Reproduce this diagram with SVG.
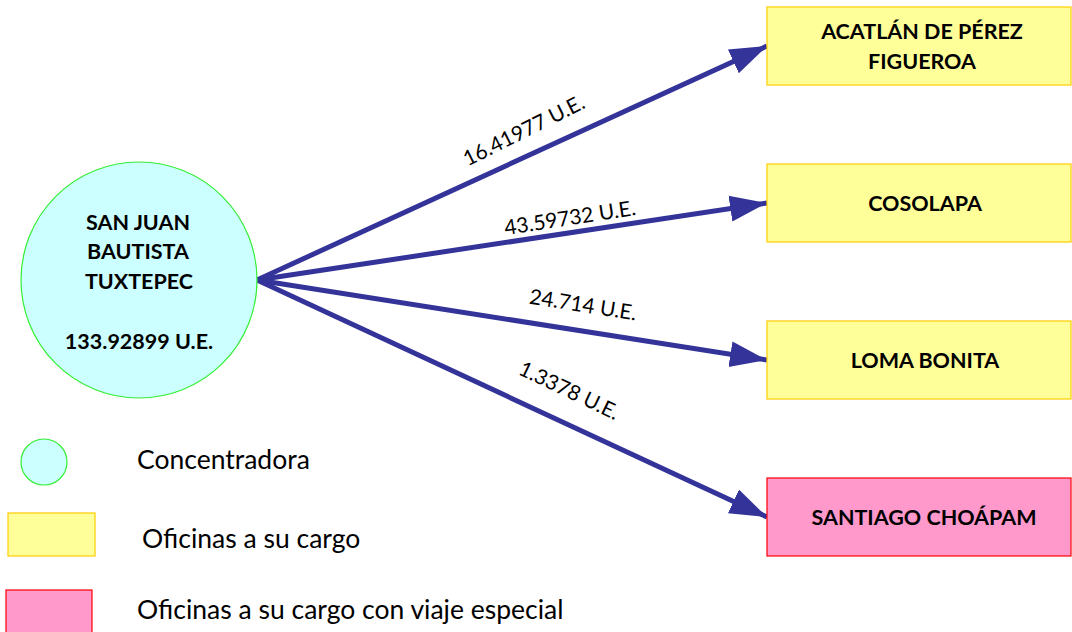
<svg xmlns="http://www.w3.org/2000/svg" width="1072" height="632" viewBox="0 0 1072 632">
<style>
.lbl{font-family:Lato,"Open Sans","Liberation Sans",sans-serif;font-size:21px;fill:#000}
.node{font-family:Lato,"Open Sans","Liberation Sans",sans-serif;font-size:21.5px;font-weight:bold;fill:#000;text-anchor:middle}
.leg{font-family:Lato,"Open Sans","Liberation Sans",sans-serif;font-size:26.5px;fill:#000}
.conn{stroke:#333399;stroke-width:5;fill:none}
.yel{fill:#FFFF99;stroke:#FFCC00;stroke-width:1.2}
.pink{fill:#FF99CC;stroke:#FF0000;stroke-width:1.2}
.conc{fill:#CCFFFF;stroke:#33EE33;stroke-width:1.2}
</style>
<defs>
<marker id="ah" markerUnits="userSpaceOnUse" markerWidth="40" markerHeight="28" refX="37" refY="13" orient="auto" viewBox="0 0 40 26">
<path d="M0,0 L37,13 L0,26 Z" fill="#333399"/>
</marker>
</defs>
<rect width="1072" height="632" fill="#fff"/>
<g id="connectors">
<line class="conn" x1="257" y1="280" x2="767" y2="46" marker-end="url(#ah)"/>
<line class="conn" x1="257" y1="280" x2="767" y2="203" marker-end="url(#ah)"/>
<line class="conn" x1="257" y1="280" x2="767" y2="360" marker-end="url(#ah)"/>
<line class="conn" x1="257" y1="280" x2="767" y2="517" marker-end="url(#ah)"/>
<text class="lbl" text-anchor="middle" transform="translate(527,137) rotate(-26.5)">16.41977 U.E.</text>
<text class="lbl" text-anchor="middle" transform="translate(571,225) rotate(-8.8)">43.59732 U.E.</text>
<text class="lbl" text-anchor="middle" transform="translate(582,312) rotate(9)">24.714 U.E.</text>
<text class="lbl" text-anchor="middle" transform="translate(566,397) rotate(25.5)">1.3378 U.E.</text>
</g>
<g id="tuxtepec">
<circle class="conc" cx="139" cy="280" r="118"/>
<text class="node" x="138" y="230">SAN JUAN</text>
<text class="node" x="138" y="259">BAUTISTA</text>
<text class="node" x="139" y="289">TUXTEPEC</text>
<text class="node" x="139" y="349">133.92899 U.E.</text>
</g>
<g id="acatlan">
<rect class="yel" x="767" y="7" width="304" height="78"/>
<text class="node" x="922" y="39">ACATLÁN DE PÉREZ</text>
<text class="node" x="922" y="69">FIGUEROA</text>
</g>
<g id="cosolapa">
<rect class="yel" x="767" y="164" width="304" height="78"/>
<text class="node" x="925" y="211">COSOLAPA</text>
</g>
<g id="lomabonita">
<rect class="yel" x="767" y="321" width="304" height="78"/>
<text class="node" x="925" y="368">LOMA BONITA</text>
</g>
<g id="choapam">
<rect class="pink" x="767" y="478" width="304" height="78"/>
<text class="node" x="924" y="525">SANTIAGO CHOÁPAM</text>
</g>
<g id="legend">
<circle class="conc" cx="44" cy="462" r="23"/>
<text class="leg" x="137" y="469">Concentradora</text>
<rect class="yel" x="8" y="513" width="87" height="43"/>
<text class="leg" x="142" y="548">Oficinas a su cargo</text>
<rect class="pink" x="6" y="590" width="86" height="44"/>
<text class="leg" x="137" y="619">Oficinas a su cargo con viaje especial</text>
</g>
</svg>
